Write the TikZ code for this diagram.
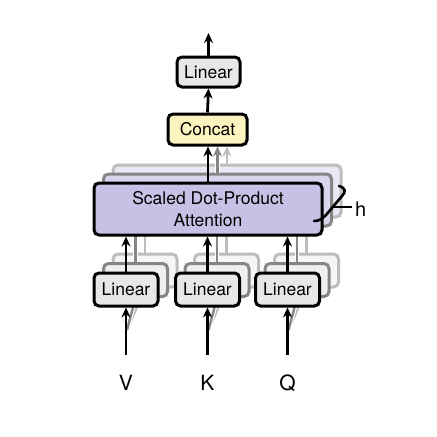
\documentclass[tikz,border=0pt]{standalone}
\usepackage{fontspec}
\setmainfont{TeX Gyre Heros}
\usetikzlibrary{arrows.meta}
\definecolor{lingray}{HTML}{E5E8E6}
\definecolor{lingrayB}{HTML}{EEEFEE}
\definecolor{lingrayC}{HTML}{F5F5F5}
\definecolor{concaty}{HTML}{FBF4BE}
\definecolor{attnp}{HTML}{C7C1E5}
\definecolor{attnpB}{HTML}{D9D5EE}
\definecolor{attnpC}{HTML}{EAE8F5}
\definecolor{edgeB}{HTML}{858585}
\definecolor{edgeC}{HTML}{BDBDBD}
\tikzset{
  box/.style={draw=black, line width=3pt, rounded corners=5pt, inner sep=0pt,
              font=\fontsize{17.5}{19}\selectfont},
  linbox/.style={box, fill=lingray, minimum width=64pt, minimum height=33pt},
  attbox/.style={box, fill=attnp, minimum width=228pt, minimum height=52pt,
                 align=center, font=\fontsize{17.5}{22}\selectfont},
  layerB/.style={draw=edgeB},
  layerC/.style={draw=edgeC},
  arr/.style={line width=2.8pt, -{Stealth[length=10pt,width=9pt]}},
  backline/.style={line width=2.4pt, preaction={draw=white, line width=4.6pt}},
  lbl/.style={font=\fontsize{21}{23}\selectfont, inner sep=0pt},
}
\begin{document}
\begin{tikzpicture}[x=1pt,y=-1pt]
\path[use as bounding box, fill=white] (0,0) rectangle (437,437);

% ---------- layer C (backmost) ----------
\node[attbox, layerC, fill=attnpC] (attC) at (227,191) {};
\node[linbox, layerC, fill=lingrayC] (lvC) at (145,270.5) {};
\node[linbox, layerC, fill=lingrayC] (lkC) at (226.5,270.5) {};
\node[linbox, layerC, fill=lingrayC] (lqC) at (306.5,270.5) {};

% ---------- layer B ----------
\node[attbox, layerB, fill=attnpB] (attB) at (217.5,200) {};
\node[linbox, layerB, fill=lingrayB] (lvB) at (135.5,280) {};
\node[linbox, layerB, fill=lingrayB] (lkB) at (217,280) {};
\node[linbox, layerB, fill=lingrayB] (lqB) at (297,280) {};

% ---------- inputs ----------
\node[lbl] (V) at (126,383) {V};
\node[lbl] (K) at (207.5,383) {K};
\node[lbl] (Q) at (287.5,383) {Q};
\coordinate (vin) at (126,355);
\coordinate (kin) at (207.5,355);
\coordinate (qin) at (287.5,355);
\coordinate (vbr) at (127,330);
\coordinate (kbr) at (208.5,330);
\coordinate (qbr) at (288.5,330);

% back connectors (layer C)
\draw[backline, edgeC] (lvC.north) -- (lvC.north |- attC.south);
\draw[backline, edgeC] (lkC.north) -- (lkC.north |- attC.south);
\draw[backline, edgeC] (lqC.north) -- (lqC.north |- attC.south);
\draw[backline, edgeC] (vbr) -- (lvC.south);
\draw[backline, edgeC] (kbr) -- (lkC.south);
\draw[backline, edgeC] (qbr) -- (lqC.south);
% back connectors (layer B)
\draw[backline, edgeB] (lvB.north) -- (lvB.north |- attB.south);
\draw[backline, edgeB] (lkB.north) -- (lkB.north |- attB.south);
\draw[backline, edgeB] (lqB.north) -- (lqB.north |- attB.south);
\draw[backline, edgeB] (vbr) -- (lvB.south);
\draw[backline, edgeB] (kbr) -- (lkB.south);
\draw[backline, edgeB] (qbr) -- (lqB.south);

% ---------- front layer ----------
\node[attbox] (att) at (208,209) {Scaled Dot-Product\\Attention};
\node[linbox] (lv) at (126,289.5) {Linear};
\node[linbox] (lk) at (207.5,289.5) {Linear};
\node[linbox] (lq) at (287.5,289.5) {Linear};

\node[box, fill=concaty, minimum width=79pt, minimum height=31pt] (concat) at (207.5,129.5) {Concat};
\node[box, fill=lingray, minimum width=63pt, minimum height=30pt] (lout) at (208.5,72) {Linear};
\coordinate (out) at (208.5,33);

% front connectors
\draw[arr] (vin) -- (lv.south);
\draw[arr] (kin) -- (lk.south);
\draw[arr] (qin) -- (lq.south);
\draw[arr] (lv.north) -- (lv.north |- att.south);
\draw[arr] (lk.north) -- (lk.north |- att.south);
\draw[arr] (lq.north) -- (lq.north |- att.south);
\draw[arr, edgeC, line width=2.4pt, preaction={draw=white, line width=4.6pt, -}] (attC.north) -- (attC.north |- concat.south);
\draw[arr, edgeB, line width=2.4pt, preaction={draw=white, line width=4.6pt, -}] (attB.north) -- (attB.north |- concat.south);
\draw[arr] (att.north) -- (att.north |- concat.south);
\draw[arr] (concat.north) -- (lout.south);
\draw[arr] (lout.north) -- (out);

% bracket with h
\draw[line width=2.6pt, line cap=round]
  (339,186) .. controls (346,188) and (346,192) .. (342,196) -- (326,215)
  .. controls (322,219) and (319,221) .. (314,221);
\draw[line width=1.6pt] (334,207) -- (352,207);
\node[font=\fontsize{20}{22}\selectfont, inner sep=0pt, anchor=west] (h) at (355,209) {h};
\end{tikzpicture}
\end{document}
